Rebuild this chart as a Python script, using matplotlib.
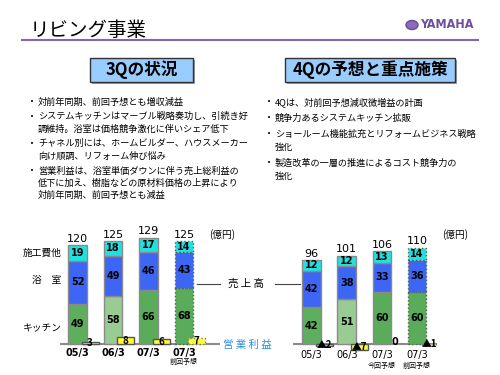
import matplotlib
matplotlib.use('Agg')
import matplotlib.pyplot as plt
from matplotlib.patches import Rectangle, Circle

plt.rcParams['font.family'] = ['Noto Sans CJK JP', 'DejaVu Sans']

# ---- data ----
periods = ['05/3', '06/3', '07/3', '07/3']
notes_l = ['', '', '', '前回予想']
kitchen_l = [49, 58, 66, 68]
bath_l = [52, 49, 46, 43]
other_l = [19, 18, 17, 14]
total_l = [120, 125, 129, 125]
profit_l = [3, 8, 6, 7]

notes_r = ['', '', '今回予想', '前回予想']
kitchen_r = [42, 51, 60, 60]
bath_r = [42, 38, 33, 36]
other_r = [12, 12, 13, 14]
total_r = [96, 101, 106, 110]
profit_r = [-2, -7, 0, -1]

seg_names = ['キッチン', '浴　室', '施工費他']

bullets_l = [['対前年同期、前回予想とも増収減益'],
             ['システムキッチンはマーブル戦略奏功し、引続き好', '調維持。浴室は価格競争激化に伴いシェア低下'],
             ['チャネル別には、ホームビルダー、ハウスメーカー', '向け順調、リフォーム伸び悩み'],
             ['営業利益は、浴室単価ダウンに伴う売上総利益の', '低下に加え、樹脂などの原材料価格の上昇により', '対前年同期、前回予想とも減益']]
bullets_r = [['4Qは、対前回予想減収微増益の計画'],
             ['競争力あるシステムキッチン拡販'],
             ['ショールーム機能拡充とリフォームビジネス戦略', '強化'],
             ['製造改革の一層の推進によるコスト競争力の', '強化']]

W, H = 500, 375
fig = plt.figure(figsize=(5, 3.75), dpi=100)
fig.patch.set_facecolor('white')


def fx(x):
    return x / W


def fy(y):
    return 1 - y / H


# ---- header ----
fig.text(fx(30), fy(30), 'リビング事業', fontsize=14, va='center', ha='left')
fig.add_artist(plt.Line2D([fx(22), fx(478)], [fy(40), fy(40)], color='#8564b4', lw=1.5))
fig.add_artist(Circle((fx(412), fy(25)), 6 / W, transform=fig.transFigure,
                      facecolor='#8a6bb8', edgecolor='#6a4a9a'))
fig.text(fx(420), fy(25), 'YAMAHA', fontsize=9, fontweight='bold', color='#6e4c9e',
         va='center', ha='left', family='DejaVu Sans', fontstretch='condensed')


# ---- boxes ----
def title_box(x0, x1, y0, y1, label):
    fig.add_artist(Rectangle((fx(x0 + 2), fy(y1 + 2)), (x1 - x0) / W, (y1 - y0) / H,
                             transform=fig.transFigure, facecolor='#a0a0a0', edgecolor='none'))
    fig.add_artist(Rectangle((fx(x0), fy(y1)), (x1 - x0) / W, (y1 - y0) / H,
                             transform=fig.transFigure, facecolor='#99ccff',
                             edgecolor='#333333', lw=1))
    fig.text(fx((x0 + x1) / 2), fy((y0 + y1) / 2), label, fontsize=12,
             fontweight='bold', ha='center', va='center')


title_box(90, 193, 58, 82, '3Qの状況')
title_box(285, 455, 58, 82, '4Qの予想と重点施策')


def bullets(items, xb, y, step, gap):
    for item in items:
        for j, line in enumerate(item):
            if j == 0:
                fig.text(fx(xb), fy(y), '•', fontsize=5, va='center', ha='center',
                         family='DejaVu Sans')
            fig.text(fx(xb + 6), fy(y), line, fontsize=6.6, va='center', ha='left')
            y += step
        y += gap
    return y


bullets(bullets_l, 32, 102, 12.3, 2.5)
bullets(bullets_r, 269, 102, 13, 3)


# ---- charts ----
def chart(x0, x1, base, top, scale, centers0, spacing, kitchen, bath, other, total,
          profit, notes, bold_x, greens):
    ytop = (base - 228) / scale
    ybot = -(372 - base) / scale
    ax = fig.add_axes([fx(x0), fy(372), (x1 - x0) / W, (372 - 228) / H])
    ax.set_xlim((x0 - centers0) / spacing, (x1 - centers0) / spacing)
    ax.set_ylim(ybot, ytop)
    ax.axis('off')
    n = len(kitchen)
    xs = list(range(n))
    bw = 18.5 / spacing
    for i in xs:
        ls = ':' if i == n - 1 else '-'
        ec = '#4a6a4a' if i == n - 1 else '#8a8a8a'
        b = 0
        for val, col in [(kitchen[i], greens[i]), (bath[i], '#3d66f5'), (other[i], '#22e0e0')]:
            ax.bar(i, val, bottom=b, width=bw, color=col, edgecolor=ec, lw=1, linestyle=ls, zorder=2)
            ax.text(i, b + val / 2, str(val), ha='center', va='center', fontsize=7,
                    fontweight='bold', family='DejaVu Sans', zorder=5)
            b += val
        ax.text(i, total[i] + 1.5, str(total[i]), ha='center', va='bottom', fontsize=8,
                family='DejaVu Sans')
        # profit
        px = i + 12.5 / spacing
        p = profit[i]
        if p != 0:
            ax.bar(px, p, width=17 / spacing, color='#ffff33', edgecolor='#555555' if i < n - 1 else '#777777',
                   lw=1, linestyle=ls, zorder=3)
            lab = str(p) if p > 0 else '▲' + str(-p)
            ax.text(px, p / 2, lab, ha='center', va='center', fontsize=7, fontweight='bold',
                    zorder=6)
        else:
            ax.text(px, 2.5, '0', ha='center', va='center', fontsize=7, fontweight='bold',
                    family='DejaVu Sans', zorder=6)
        ax.text(i, -10.5 if bold_x else -13, periods[i], ha='center', va='center', fontsize=7,
                fontweight='bold' if bold_x else 'normal', family='DejaVu Sans')
        if notes[i]:
            ax.text(i, -21.5 if bold_x else -25, notes[i], ha='center', va='center', fontsize=5)
    ax.plot([(x0 - centers0) / spacing, (x1 - centers0) / spacing], [0, 0],
            color='#8a8a8a', lw=1.5, zorder=1)
    return ax


greens = ['#5daf5d', '#98cc92', '#5aac5a', '#5aac5a']
axl = chart(60, 220, 344, 228, 0.825, 77.5, 35.5, kitchen_l, bath_l, other_l, total_l,
            profit_l, notes_l, True, greens)
axr = chart(293, 437, 344, 228, 0.875, 311.5, 35.2, kitchen_r, bath_r, other_r, total_r,
            profit_r, notes_r, False, greens)

# segment names left of first bar
mids = [kitchen_l[0] / 2 - 6, kitchen_l[0] + bath_l[0] / 2 + 3,
        kitchen_l[0] + bath_l[0] + other_l[0] / 2]
for name, m in zip(seg_names, mids):
    axl.text(-0.45, m, name, ha='right', va='center', fontsize=7)

fig.text(fx(209), fy(235), '(億円)', fontsize=7, va='center', ha='left')
fig.text(fx(442), fy(235), '(億円)', fontsize=7, va='center', ha='left')

# middle labels
fig.add_artist(plt.Line2D([fx(197), fx(220)], [fy(284), fy(284)], color='#444444', lw=0.8))
fig.add_artist(plt.Line2D([fx(275), fx(300)], [fy(284), fy(284)], color='#444444', lw=0.8))
fig.text(fx(246), fy(284), '売 上 高', fontsize=7.5, ha='center', va='center')
fig.text(fx(247), fy(345), '営 業 利 益', fontsize=7.5, ha='center', va='center', color='#2b8de0')

fig.savefig('out.png', dpi=100)
